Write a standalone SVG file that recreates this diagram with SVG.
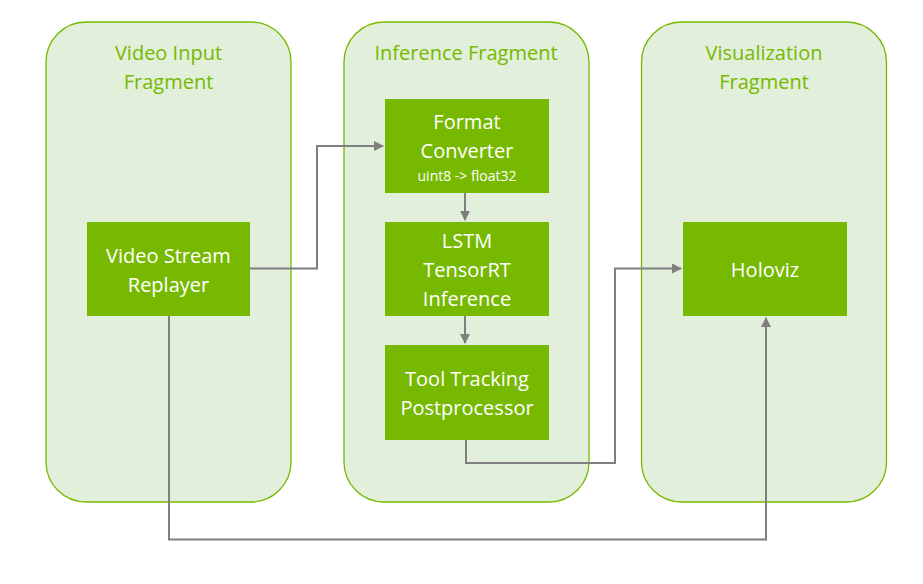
<svg xmlns="http://www.w3.org/2000/svg" width="923" height="584" viewBox="0 0 923 584">
<style>
.panel{fill:#E2EFDA;stroke:#76B900;stroke-width:1.3}
.box{fill:#76B900}
.title{font-family:"Open Sans","Liberation Sans",sans-serif;font-size:20px;fill:#76B900;text-anchor:middle}
.lbl{font-family:"Open Sans","Liberation Sans",sans-serif;font-size:20px;fill:#FFFFFF;text-anchor:middle}
.sm{font-size:14px}
.conn{fill:none;stroke:#7F7F7F;stroke-width:2}
</style>
<defs>
<marker id="arr" viewBox="0 0 10 10" refX="9" refY="5" markerWidth="5" markerHeight="5" orient="auto" markerUnits="strokeWidth">
<path d="M0,0 L10,5 L0,10 z" fill="#7F7F7F"/>
</marker>
</defs>
<rect width="923" height="584" fill="#FFFFFF"/>
<g id="fragment-video-input">
<rect class="panel" x="46" y="22" width="245" height="480" rx="40" ry="40"/>
<text class="title" x="168.5" y="60">Video Input</text>
<text class="title" x="168.5" y="89">Fragment</text>
</g>
<g id="fragment-inference">
<rect class="panel" x="344" y="22" width="245" height="480" rx="40" ry="40"/>
<text class="title" x="466" y="60">Inference Fragment</text>
</g>
<g id="fragment-visualization">
<rect class="panel" x="641.5" y="22" width="245" height="480" rx="40" ry="40"/>
<text class="title" x="764" y="60">Visualization</text>
<text class="title" x="764" y="89">Fragment</text>
</g>
<g id="connectors">
<polyline class="conn" points="250,268.5 317,268.5 317,146 383,146" marker-end="url(#arr)"/>
<polyline class="conn" points="465,193 465,220" marker-end="url(#arr)"/>
<polyline class="conn" points="465,316 465,343" marker-end="url(#arr)"/>
<polyline class="conn" points="466,440 466,463 615,463 615,268.5 681,268.5" marker-end="url(#arr)"/>
<polyline class="conn" points="169,316 169,539.5 766,539.5 766,318" marker-end="url(#arr)"/>
</g>
<g id="node-video-stream-replayer">
<rect class="box" x="87" y="222" width="163" height="94"/>
<text class="lbl" x="168.5" y="263">Video Stream</text>
<text class="lbl" x="168.5" y="292">Replayer</text>
</g>
<g id="node-format-converter">
<rect class="box" x="385" y="99" width="164" height="94"/>
<text class="lbl" x="467" y="129">Format</text>
<text class="lbl" x="467" y="158">Converter</text>
<text class="lbl sm" x="467" y="181">uint8 -&gt; float32</text>
</g>
<g id="node-lstm-inference">
<rect class="box" x="385" y="222" width="164" height="94"/>
<text class="lbl" x="467" y="248">LSTM</text>
<text class="lbl" x="467" y="277">TensorRT</text>
<text class="lbl" x="467" y="306">Inference</text>
</g>
<g id="node-tool-tracking">
<rect class="box" x="385" y="345" width="164" height="95"/>
<text class="lbl" x="467" y="386">Tool Tracking</text>
<text class="lbl" x="467" y="415">Postprocessor</text>
</g>
<g id="node-holoviz">
<rect class="box" x="683" y="222" width="164" height="94"/>
<text class="lbl" x="765" y="277">Holoviz</text>
</g>
</svg>
